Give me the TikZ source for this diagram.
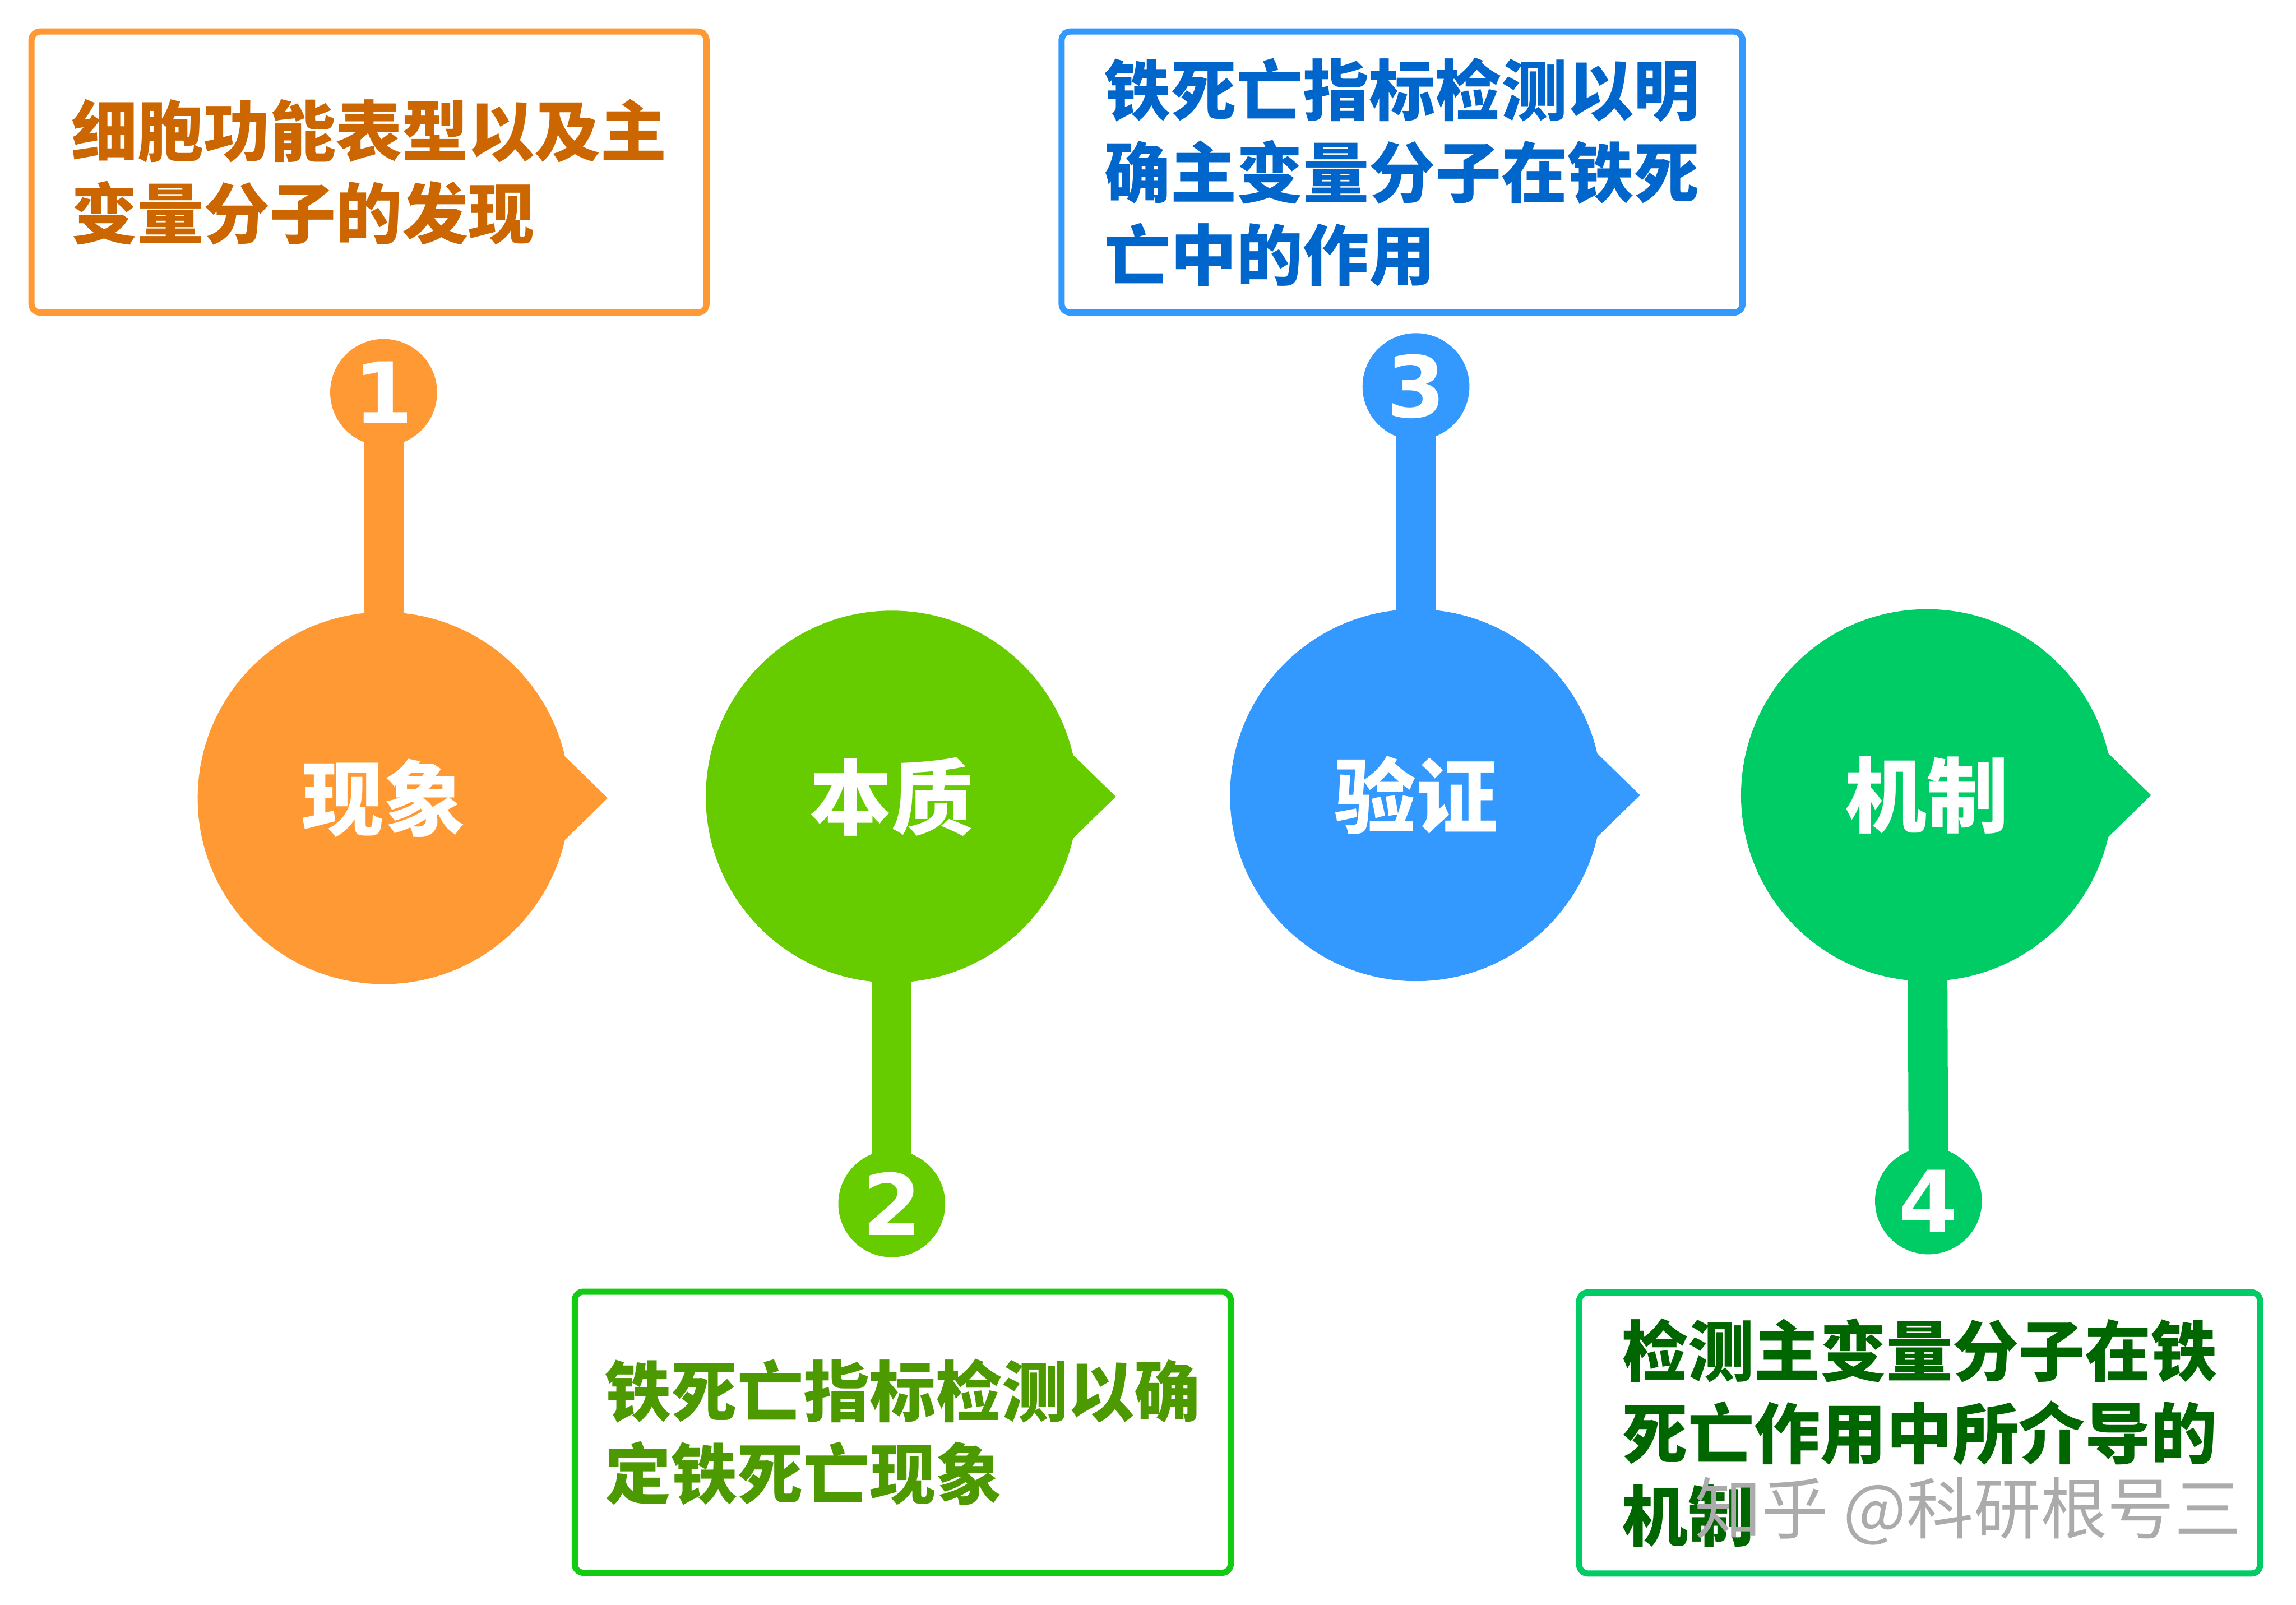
\documentclass[tikz,border=0pt]{standalone}
\usepackage{fontspec}
\newfontfamily\cjk{Noto Sans CJK SC}
\newfontfamily\numfont{DejaVu Sans}
\usetikzlibrary{backgrounds}

\definecolor{orng}{HTML}{FF9933}
\definecolor{orngtext}{HTML}{CC6600}
\definecolor{lime}{HTML}{66CC00}
\definecolor{limeedge}{HTML}{11CC11}
\definecolor{limetext}{HTML}{4C9900}
\definecolor{sky}{HTML}{3399FF}
\definecolor{skytext}{HTML}{0066CC}
\definecolor{mint}{HTML}{00CC66}
\definecolor{minttext}{HTML}{006600}

\begin{document}
\begin{tikzpicture}[
  x=0.1mm, y=-0.1mm,
  bubble/.style={circle, fill=#1, minimum size=25.4mm, inner sep=0pt, outer sep=0pt, text=white, font=\cjk\bfseries\fontsize{15.9}{18}\selectfont},
  numdot/.style={circle, fill=#1, minimum size=7.3mm, inner sep=0pt, outer sep=0pt, text=white, font=\numfont\bfseries\fontsize{16.5}{18}\selectfont},
  stem/.style={draw=#1, line width=2.7mm, shorten <=-1mm, shorten >=-1mm},
  notebox/.style={draw=#1, line width=1.2pt, rounded corners=0.6mm, fill=white, align=left, inner sep=0pt, minimum height=19.2mm, font=\cjk\bfseries\fontsize{12.85}{16}\selectfont}
]
\useasboundingbox (0,0) rectangle (1568,1096);

% the four stages
\node[bubble=orng] (b1) at (262,545) {现象};
\node[bubble=lime] (b2) at (609,544) {本质};
\node[bubble=sky]  (b3) at (967,543) {验证};
\node[bubble=mint] (b4) at (1316,543) {机制};
\fill[orng] (b1.13) -- ([xshift=15.3mm]b1.center) -- (b1.-13) -- cycle;
\fill[lime] (b2.13) -- ([xshift=15.3mm]b2.center) -- (b2.-13) -- cycle;
\fill[sky]  (b3.13) -- ([xshift=15.3mm]b3.center) -- (b3.-13) -- cycle;
\fill[mint] (b4.13) -- ([xshift=15.3mm]b4.center) -- (b4.-13) -- cycle;

% numbers
\node[numdot=orng] (n1) at (262,268) {1};
\node[numdot=lime] (n2) at (609,822) {2};
\node[numdot=sky]  (n3) at (967,264) {3};
\node[numdot=mint] (n4) at (1317,820) {4};

\begin{scope}[on background layer]
\draw[stem=orng] (n1) -- (b1);
\draw[stem=lime] (b2) -- (n2);
\draw[stem=sky]  (n3) -- (b3);
\draw[stem=mint] (b4) -- (n4);
\end{scope}

% notes
\node[notebox=orng, text=orngtext, minimum width=46.1mm] (t1) at (252,117.5)
  {细胞功能表型以及主\\变量分子的发现};
\node[notebox=limeedge, text=limetext, minimum width=44.8mm] (t2) at (616.5,978)
  {铁死亡指标检测以确\\定铁死亡现象};
\node[notebox=sky, text=skytext, minimum width=46.5mm] (t3) at (957.5,117.5)
  {铁死亡指标检测以明\\确主变量分子在铁死\\亡中的作用};
\node[notebox=mint, text=minttext, minimum width=46.5mm] (t4) at (1311,978.5)
  {检测主变量分子在铁\\死亡作用中所介导的\\机制};

\node[text=black!33, font=\cjk\fontsize{13}{15}\selectfont, anchor=west] (wm) at (1145,1032) {知乎 @科研根号三};
\end{tikzpicture}
\end{document}
